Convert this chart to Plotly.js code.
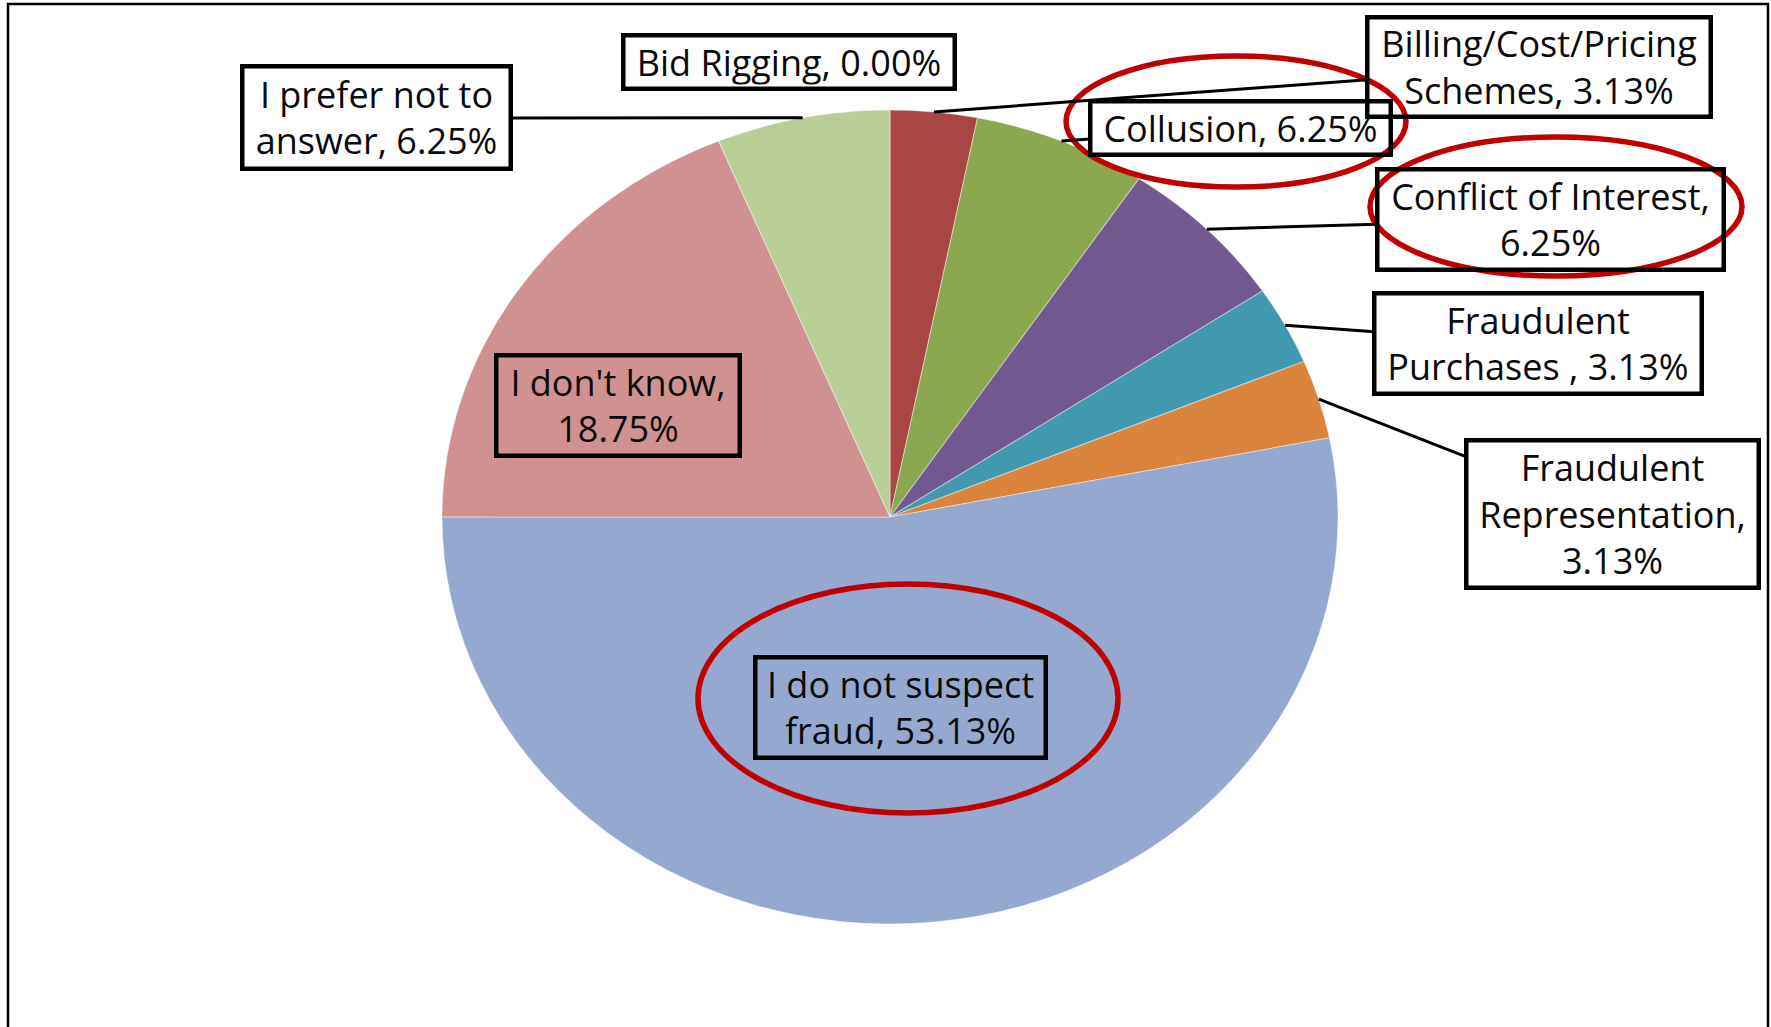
<!DOCTYPE html>
<html>
<head>
<meta charset="utf-8">
<script src="https://cdn.plot.ly/plotly-3.0.1.min.js"></script>
<style>
  html, body { margin: 0; padding: 0; background: #ffffff; }
  #chart { width: 1771px; height: 1027px; }
</style>
</head>
<body>
<div id="chart"></div>
<script>
// ---- data ----
const categories = [
  'Bid Rigging',
  'Billing/Cost/Pricing Schemes',
  'Collusion',
  'Conflict of Interest',
  'Fraudulent Purchases ',
  'Fraudulent Representation',
  'I do not suspect fraud',
  "I don't know",
  'I prefer not to answer'
];
const percentValues = [0.00, 3.13, 6.25, 6.25, 3.13, 3.13, 53.13, 18.75, 6.25];
// label text as wrapped in the chart (category, value)
const labelLines = [
  'Bid Rigging, {v}',
  'Billing/Cost/Pricing<br>Schemes, {v}',
  'Collusion, {v}',
  'Conflict of Interest,<br>{v}',
  'Fraudulent<br>Purchases , {v}',
  'Fraudulent<br>Representation,<br>{v}',
  'I do not suspect<br>fraud, {v}',
  "I don't know,<br>{v}",
  'I prefer not to<br>answer, {v}'
];
const highlighted = ['Collusion', 'Conflict of Interest', 'I do not suspect fraud'];

// ---- styling / layout ----
const W = 1771, H = 1027;
const sliceColors = ['#4F81BD', '#A84644', '#8AA64E', '#725990', '#4298AF', '#DA843E', '#95A9D0', '#D09291', '#B9CD96'];
const pieCx = 890, pieCy = 517, pieR = 407, stretchX = 448 / 407;
// label boxes: centre (px), outer width/height (px), leader line or not
const labelBoxes = [
  {x: 789,  y: 62,  w: 336, h: 58,  arrow: false},
  {x: 1539, y: 67,  w: 348, h: 104, arrow: true},
  {x: 1240, y: 128, w: 305, h: 58,  arrow: true},
  {x: 1550, y: 219, w: 351, h: 105, arrow: true},
  {x: 1538, y: 344, w: 332, h: 105, arrow: true},
  {x: 1612, y: 514, w: 297, h: 152, arrow: true},
  {x: 900,  y: 707, w: 295, h: 105, arrow: false},
  {x: 618,  y: 405, w: 248, h: 105, arrow: false},
  {x: 376,  y: 118, w: 273, h: 107, arrow: true}
];
const boxBorder = 4.5, boxPad = 2;
// red highlight ellipses (px): x0, y0, x1, y1
const ellipseBoxes = {
  'Collusion': [1066, 56, 1406, 187],
  'Conflict of Interest': [1370, 137, 1742, 276],
  'I do not suspect fraud': [698, 584, 1118, 813]
};

const px = v => v / W;
const py = v => 1 - v / H;

const total = percentValues.reduce((a, b) => a + b, 0);
let cum = 0;
const annotations = [];
categories.forEach((cat, i) => {
  const v = percentValues[i];
  const mid = (cum + v / 2) / total;
  cum += v;
  const theta = 2 * Math.PI * mid;
  const tipX = pieCx + pieR * stretchX * Math.sin(theta);
  const tipY = pieCy - pieR * Math.cos(theta);
  const box = labelBoxes[i];
  const text = labelLines[i].replace('{v}', v.toFixed(2) + '%');
  const common = {
    text: text,
    font: {family: 'Open Sans, sans-serif', size: 36, color: '#0a0a0a'},
    align: 'center',
    valign: 'middle',
    width: box.w - 2 * (boxBorder + boxPad),
    height: box.h - 2 * (boxBorder + boxPad),
    bordercolor: '#000000',
    borderwidth: boxBorder,
    borderpad: boxPad,
    bgcolor: 'rgba(0,0,0,0)',
    xref: 'paper', yref: 'paper'
  };
  if (box.arrow) {
    annotations.push(Object.assign(common, {
      x: px(tipX), y: py(tipY),
      showarrow: true, arrowhead: 0, arrowwidth: 3, arrowcolor: '#000000',
      ax: box.x - tipX, ay: box.y - tipY, standoff: 0, startstandoff: 0
    }));
  } else {
    annotations.push(Object.assign(common, {
      x: px(box.x), y: py(box.y), xanchor: 'center', yanchor: 'middle', showarrow: false
    }));
  }
});

const shapes = [
  {type: 'rect', xref: 'paper', yref: 'paper', x0: px(8), x1: px(1768), y0: py(4), y1: py(1060),
   line: {color: '#000000', width: 2.5}, fillcolor: 'rgba(0,0,0,0)'}
];
highlighted.forEach(cat => {
  const b = ellipseBoxes[cat];
  shapes.push({type: 'circle', xref: 'paper', yref: 'paper', x0: px(b[0]), x1: px(b[2]), y0: py(b[1]), y1: py(b[3]),
    line: {color: '#C00000', width: 5.5}, fillcolor: 'rgba(0,0,0,0)', layer: 'above'});
});

const trace = {
  type: 'pie',
  labels: categories,
  values: percentValues,
  sort: false,
  direction: 'clockwise',
  rotation: 0,
  textinfo: 'none',
  hoverinfo: 'label+percent',
  showlegend: false,
  marker: {colors: sliceColors, line: {color: 'rgba(255,255,255,0.4)', width: 1}},
  domain: {
    x: [px(pieCx - pieR), px(pieCx + pieR)],
    y: [py(pieCy + pieR), py(pieCy - pieR)]
  }
};

const layout = {
  width: W, height: H,
  margin: {l: 0, r: 0, t: 0, b: 0},
  paper_bgcolor: '#ffffff',
  plot_bgcolor: '#ffffff',
  showlegend: false,
  annotations: annotations,
  shapes: shapes
};

Plotly.newPlot('chart', [trace], layout, {displayModeBar: false, staticPlot: true}).then(() => {
  const g = document.querySelector('.pielayer');
  if (g) {
    g.setAttribute('transform',
      'translate(' + pieCx + ',' + pieCy + ') scale(' + stretchX + ',1) translate(' + (-pieCx) + ',' + (-pieCy) + ')');
  }
});
</script>
</body>
</html>
